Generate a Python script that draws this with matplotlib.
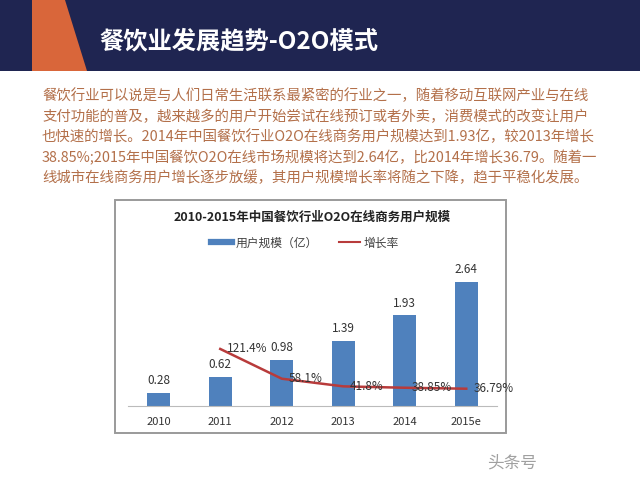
import matplotlib.pyplot as plt
from matplotlib.patches import Rectangle, Polygon
from matplotlib.lines import Line2D

plt.rcParams['font.family'] = ['Noto Sans CJK SC', 'DejaVu Sans']

# 数据
years = ['2010', '2011', '2012', '2013', '2014', '2015e']
users = [0.28, 0.62, 0.98, 1.39, 1.93, 2.64]
growth_years = ['2011', '2012', '2013', '2014', '2015e']
growth = [121.4, 58.1, 41.8, 38.85, 36.79]
growth_labels = ['121.4%', '58.1%', '41.8%', '38.85%', '36.79%']

title = '餐饮业发展趋势-O2O模式'
paragraph = [
    '餐饮行业可以说是与人们日常生活联系最紧密的行业之一，随着移动互联网产业与在线',
    '支付功能的普及，越来越多的用户开始尝试在线预订或者外卖，消费模式的改变让用户',
    '也快速的增长。2014年中国餐饮行业O2O在线商务用户规模达到1.93亿，较2013年增长',
    '38.85%;2015年中国餐饮O2O在线市场规模将达到2.64亿，比2014年增长36.79。随着一',
    '线城市在线商务用户增长逐步放缓，其用户规模增长率将随之下降，趋于平稳化发展。',
]
chart_title = '2010-2015年中国餐饮行业O2O在线商务用户规模'

fig = plt.figure(figsize=(6.4, 4.8), dpi=100)
W, H = 640, 480

def fx(px):
    return px / W

def fy(py):
    return 1 - py / H

# 顶部标题栏
fig.patches.append(Rectangle((0, fy(71)), 1, 71 / H, transform=fig.transFigure,
                             facecolor='#1F2551', edgecolor='none', zorder=-2))
fig.patches.append(Polygon([(fx(32), fy(0)), (fx(65), fy(0)), (fx(87), fy(71)), (fx(32), fy(71))],
                           closed=True, transform=fig.transFigure,
                           facecolor='#D9663A', edgecolor='none', zorder=-1))
fig.text(fx(99), fy(41), title, color='white', fontsize=17.5, fontweight='bold',
         ha='left', va='center')

# 说明文字
for i, line in enumerate(paragraph):
    fig.text(fx(42), fy(96 + i * 20.5), line, color='#B3704A', fontsize=10.4,
             ha='left', va='center')

# 图表外框
fig.patches.append(Rectangle((fx(115), fy(433)), 391 / W, 233 / H, transform=fig.transFigure,
                             facecolor='white', edgecolor='#9A9A9A', linewidth=1.4, zorder=-1))

fig.text(fx(312), fy(217), chart_title, fontsize=9, fontweight='bold',
         color='#222222', ha='center', va='center')

# 主图
ax = fig.add_axes([fx(128), fy(406), (497 - 128) / W, (406 - 265) / H])
ax.set_facecolor('none')
x = list(range(len(years)))
bars = ax.bar(x, users, width=0.38, color='#4F81BD')
for xi, v in zip(x, users):
    ax.annotate(f'{v:.2f}', (xi, v), xytext=(0, 4), textcoords='offset points',
                ha='center', va='bottom', fontsize=8.5, color='#333333')
ax.set_xlim(-0.5, len(years) - 0.5)
ax.set_ylim(0, 3.0)
ax.set_xticks(x)
ax.set_xticklabels(years, fontsize=8, color='#333333')
ax.tick_params(axis='x', length=0, pad=8)
ax.set_yticks([])
for s in ['top', 'right', 'left']:
    ax.spines[s].set_visible(False)
ax.spines['bottom'].set_color('#BBBBBB')

ax2 = ax.twinx()
gx = [years.index(g) for g in growth_years]
ax2.plot(gx, growth, color='#B83B3B', linewidth=1.8)
for xi, v, lab in zip(gx, growth, growth_labels):
    ax2.annotate(lab, (xi, v), xytext=(5, 0), textcoords='offset points',
                 ha='left', va='center', fontsize=8.5, color='#333333')
ax2.set_ylim(0, 300)
ax2.set_yticks([])
for s in ax2.spines.values():
    s.set_visible(False)

# 图例
handles = [Line2D([], [], color='#4F81BD', linewidth=4.5),
           Line2D([], [], color='#B83B3B', linewidth=1.5)]
fig.legend(handles, ['用户规模（亿）', '增长率'], loc='center',
           bbox_to_anchor=(fx(305), fy(243)), ncol=2, frameon=False,
           fontsize=8.5, handlelength=1.8, handletextpad=0.3, columnspacing=1.8,
           labelcolor='#404040')

# 水印
fig.text(fx(487), fy(463), '头条号', fontsize=12, color='#A0A0A0', ha='left', va='center')

fig.savefig('out.png', dpi=100)
